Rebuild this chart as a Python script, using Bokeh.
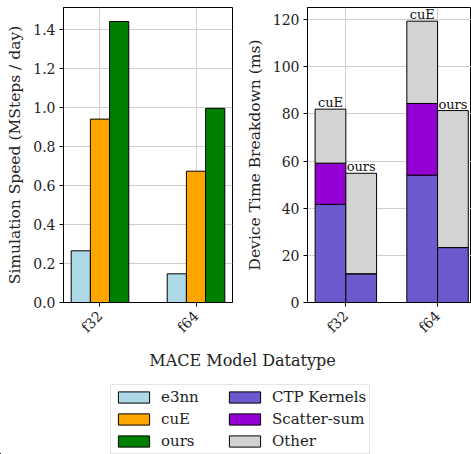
import math
from bokeh.plotting import figure
from bokeh.layouts import column, row
from bokeh.models import (Range1d, FixedTicker, NumeralTickFormatter, ColumnDataSource,
                          Legend, LegendItem, Label)
from bokeh.transform import dodge
from bokeh.core.properties import value
from bokeh.embed import file_html
from bokeh.resources import INLINE

# ---------------- data ----------------
dtypes = ["f32", "f64"]
speed_e3nn = [0.265, 0.147]
speed_cue = [0.940, 0.673]
speed_ours = [1.440, 0.995]

cue_ctp = [41.6, 54.0]
cue_scatter = [17.5, 30.4]
cue_other = [22.9, 34.9]
ours_ctp = [12.2, 23.3]
ours_scatter = [0.0, 0.0]
ours_other = [42.6, 58.1]

speed_ticks = [0.0, 0.2, 0.4, 0.6, 0.8, 1.0, 1.2, 1.4]
time_ticks = [0, 20, 40, 60, 80, 100, 120]

# ---------------- style ----------------
FONT = "DejaVu Serif"
C_E3NN, C_CUE, C_OURS = "#add8e6", "#ffa500", "#008000"
C_CTP, C_SCAT, C_OTHER = "#6a5acd", "#9400d3", "#d3d3d3"
GRID = "#cfcfcf"
TXT = "#222222"
TOP_H = 346
BOT = TOP_H - 302

def style(p, ylabel):
    p.outline_line_color = "black"
    p.outline_line_width = 1
    for ax in (p.xaxis[0], p.yaxis[0]):
        ax.major_label_text_font = FONT
        ax.major_label_text_font_size = "14px"
        ax.major_label_text_color = TXT
        ax.axis_line_color = "black"
        ax.major_tick_line_color = "black"
        ax.major_tick_out = 4
        ax.major_tick_in = 0
        ax.minor_tick_line_color = None
        ax.axis_label_text_font = FONT
        ax.axis_label_text_font_size = "15.5px"
        ax.axis_label_text_font_style = "normal"
        ax.axis_label_text_color = TXT
    p.yaxis.axis_label = ylabel
    p.yaxis.major_label_standoff = 4
    p.yaxis.axis_label_standoff = 6
    p.xaxis.ticker = FixedTicker(ticks=list(range(len(dtypes))))
    p.xaxis.major_label_overrides = {i: d for i, d in enumerate(dtypes)}
    p.xaxis.major_label_orientation = math.pi / 4
    p.xaxis.major_label_standoff = 7
    p.xgrid.grid_line_color = GRID
    p.ygrid.grid_line_color = GRID
    p.xgrid.grid_line_width = 1
    p.ygrid.grid_line_width = 1

idx = list(range(len(dtypes)))

# ---------------- left: simulation speed ----------------
p1 = figure(width=240, height=TOP_H, output_backend="svg", toolbar_location=None,
            x_range=Range1d(-0.38, 1.38), y_range=Range1d(0, 1.512),
            min_border_left=63, min_border_right=8, min_border_top=7, min_border_bottom=BOT)
bw = 0.2
src1 = ColumnDataSource(dict(x=idx, e3nn=speed_e3nn, cue=speed_cue, ours=speed_ours))
p1.vbar(x=dodge("x", -bw, range=p1.x_range), top="e3nn", width=bw, source=src1,
        fill_color=C_E3NN, line_color="black", line_width=1)
p1.vbar(x="x", top="cue", width=bw, source=src1, fill_color=C_CUE, line_color="black", line_width=1)
p1.vbar(x=dodge("x", bw, range=p1.x_range), top="ours", width=bw, source=src1,
        fill_color=C_OURS, line_color="black", line_width=1)
p1.yaxis.ticker = FixedTicker(ticks=speed_ticks)
p1.yaxis.formatter = NumeralTickFormatter(format="0.0")
style(p1, "Simulation Speed (MSteps / day)")

# ---------------- right: device time breakdown ----------------
p2 = figure(width=231, height=TOP_H, output_backend="svg", toolbar_location=None,
            x_range=Range1d(-0.418, 1.37), y_range=Range1d(0, 125.1),
            min_border_left=67, min_border_right=0, min_border_top=7, min_border_bottom=BOT)
w2 = 0.335
cue_b2 = [a + b for a, b in zip(cue_ctp, cue_scatter)]
cue_b3 = [a + b for a, b in zip(cue_b2, cue_other)]
ours_b2 = [a + b for a, b in zip(ours_ctp, ours_scatter)]
ours_b3 = [a + b for a, b in zip(ours_b2, ours_other)]
src2 = ColumnDataSource(dict(x=idx, c1=cue_ctp, c2=cue_b2, c3=cue_b3,
                             o1=ours_ctp, o2=ours_b2, o3=ours_b3,
                             lc=["cuE"] * len(idx), lo=["ours"] * len(idx)))
xc = dodge("x", -w2 / 2, range=p2.x_range)
xo = dodge("x", w2 / 2, range=p2.x_range)
for xx, b1, b2, b3 in ((xc, "c1", "c2", "c3"), (xo, "o1", "o2", "o3")):
    p2.vbar(x=xx, bottom=0, top=b1, width=w2, source=src2, fill_color=C_CTP,
            line_color="black", line_width=1)
    p2.vbar(x=xx, bottom=b1, top=b2, width=w2, source=src2, fill_color=C_SCAT,
            line_color="black", line_width=1)
    p2.vbar(x=xx, bottom=b2, top=b3, width=w2, source=src2, fill_color=C_OTHER,
            line_color="black", line_width=1)
p2.text(x=xc, y="c3", text="lc", source=src2, text_align="center", text_baseline="bottom",
        text_font=value(FONT), text_font_size="13px", text_color="#111111", y_offset=1)
p2.text(x=xo, y="o3", text="lo", source=src2, text_align="center", text_baseline="bottom",
        text_font=value(FONT), text_font_size="13px", text_color="#111111", y_offset=1)
p2.yaxis.ticker = FixedTicker(ticks=time_ticks)
style(p2, "Device Time Breakdown (ms)")

# ---------------- bottom: shared x label + legend ----------------
BH = 454 - TOP_H
p3 = figure(width=471, height=BH, output_backend="svg", toolbar_location=None,
            x_range=Range1d(0, 471), y_range=Range1d(0, BH),
            x_axis_type=None, y_axis_type=None, min_border=0)
p3.outline_line_color = None
p3.xgrid.visible = False
p3.ygrid.visible = False
p3.add_layout(Label(x=242, y=BH - (360 - TOP_H), text="MACE Model Datatype", text_align="center",
                    text_baseline="middle", text_font=FONT, text_font_size="16px",
                    text_color=TXT))
names = ["e3nn", "cuE", "ours", "CTP Kernels", "Scatter-sum", "Other"]
cols = [C_E3NN, C_CUE, C_OURS, C_CTP, C_SCAT, C_OTHER]
items = []
for n, c in zip(names, cols):
    # proxy renderer placed outside the visible range, used only for the legend swatch
    r = p3.vbar(x=[-1000], top=[1], width=1, fill_color=c, line_color="black", line_width=1)
    items.append(LegendItem(label=n, renderers=[r]))
leg = Legend(items=items, location=(110, 0), ncols=2, orientation="vertical",
             glyph_width=39, glyph_height=14, label_height=18, label_width=60, spacing=4,
             label_standoff=8, padding=3, margin=0,
             label_text_font=FONT, label_text_font_size="15px", label_text_color=TXT,
             border_line_color="#cccccc", border_line_width=1, background_fill_color="white")
p3.add_layout(leg)

layout = column(row(p1, p2), p3)
open("out.html", "w").write(file_html(layout, INLINE))
